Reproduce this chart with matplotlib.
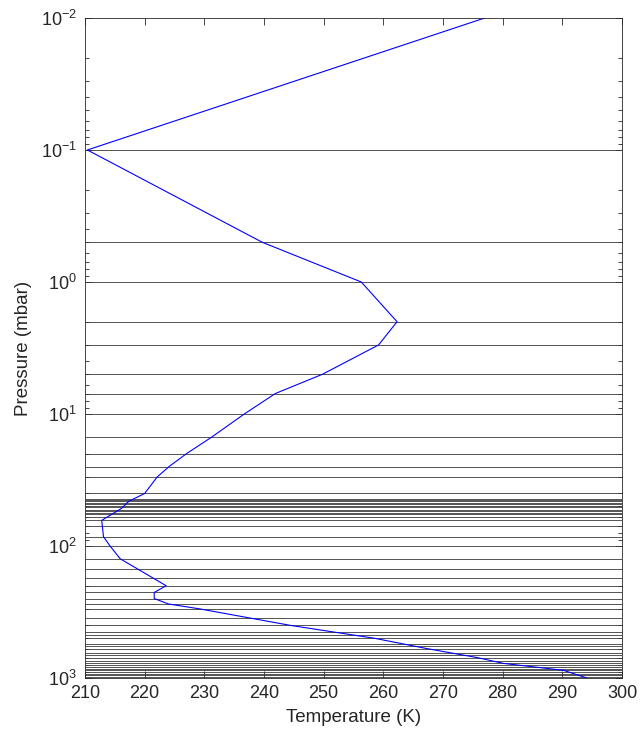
import numpy as np
import matplotlib
matplotlib.use('Agg')
import matplotlib.pyplot as plt
from matplotlib.ticker import LogLocator, FixedLocator, NullFormatter

plt.rcParams['font.family'] = ['Liberation Sans', 'DejaVu Sans']
plt.rcParams['mathtext.default'] = 'regular'

# temperature profile (K) at pressure (mbar)
prof_p = [0.01, 0.1, 0.5, 1, 2, 3, 5, 7, 10, 15, 20, 25, 30, 40, 46, 52, 64,
          85, 100, 125, 200, 225, 250, 275, 300, 400, 500, 600, 700, 775,
          875, 1000]
prof_t = [277.0, 210.4, 239.7, 256.3, 262.3, 259.2, 249.8, 241.9, 236.7,
          231.2, 227.0, 224.1, 222.1, 220.0, 217.3, 216.1, 212.8, 213.1,
          214.2, 215.9, 223.6, 221.6, 221.6, 224.0, 229.3, 244.5, 258.5,
          267.4, 275.7, 280.1, 290.2, 294.1]

# pressure levels drawn as horizontal lines (mbar)
levels = [0.1, 0.5, 1, 2, 3, 5, 7, 10, 15, 20, 25, 30, 40,
          44, 45, 46, 47, 48, 50, 51, 53, 54, 56, 57, 60, 64, 70, 85,
          100, 125, 150, 175, 200, 225, 250, 275, 300, 350, 400, 450, 475,
          500, 550, 575, 600, 650, 675, 700, 750, 775, 800, 825, 850, 875,
          900, 925, 950, 975, 1000]

xticks = [210, 220, 230, 240, 250, 260, 270, 280, 290, 300]

fig = plt.figure(figsize=(6.4, 7.43), dpi=100)
ax = fig.add_axes([0.1328, 0.0875, 0.8391, 0.8883])

ax.hlines(levels, 210, 300, colors='#383838', linewidth=0.6)
ax.plot(prof_t, prof_p, color='blue', linewidth=0.8)

ax.set_yscale('log')
ax.set_ylim(1000, 0.01)
ax.set_xlim(210, 300)
ax.set_xticks(xticks)
ax.yaxis.set_major_locator(FixedLocator([1e-2, 1e-1, 1e0, 1e1, 1e2, 1e3]))
ax.set_yticklabels(['$10^{-2}$', '$10^{-1}$', '$10^{0}$', '$10^{1}$',
                    '$10^{2}$', '$10^{3}$'])
ax.yaxis.set_minor_locator(LogLocator(base=10, subs=np.arange(2, 10)))
ax.yaxis.set_minor_formatter(NullFormatter())

ax.tick_params(which='both', direction='in', top=True, right=True,
               color='#262626', labelsize=13, labelcolor='#262626')
ax.tick_params(which='major', length=5, width=0.6)
ax.tick_params(which='minor', length=3, width=0.6)
ax.tick_params(axis='y', which='major', pad=6)
ax.tick_params(axis='x', which='major', pad=5)
for s in ax.spines.values():
    s.set_color('#262626')
    s.set_linewidth(0.6)

ax.set_xlabel('Temperature (K)', fontsize=13.5, color='#262626', labelpad=5)
ax.set_ylabel('Pressure (mbar)', fontsize=13.5, color='#262626', labelpad=6)

fig.savefig('out.png', dpi=100)
